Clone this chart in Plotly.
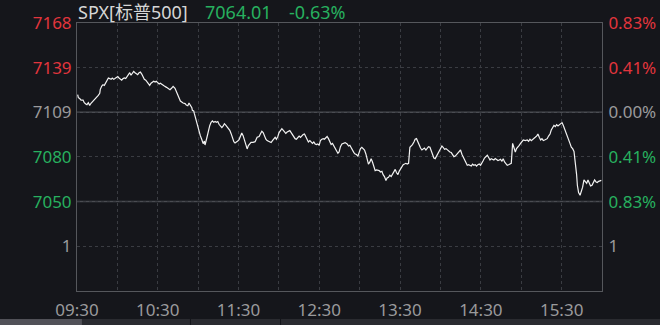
import plotly.graph_objects as go

# ---------------- data ----------------
TITLE_NAME = "SPX[标普500]"
LAST_PRICE = "7064.01"
LAST_CHANGE = "-0.63%"

# minutes after 09:30
minutes = [
    0.5, 1.0, 2.0, 3.0, 4.5, 5.4, 6.5, 7.4, 8.4, 9.4, 10.4, 11.9, 12.9, 13.9, 14.9, 15.8, 16.9, 17.3, 18.4, 19.3,
    20.3, 21.3, 22.3, 23.3, 24.3, 25.3, 26.2, 27.3, 28.2, 29.2, 30.3, 31.2, 32.2, 33.2, 34.2, 35.2, 36.2, 37.2, 38.1, 39.2,
    40.1, 41.1, 42.1, 43.1, 44.1, 45.1, 46.1, 47.1, 48.1, 49.1, 50.0, 51.1, 52.0, 53.0, 54.0, 55.0, 56.0, 57.0, 58.0, 58.9,
    60.0, 61.0, 61.9, 63.0, 63.9, 64.9, 66.5, 67.6, 69.1, 70.2, 71.4, 72.8, 74.3, 75.3, 76.8, 78.8, 80.3, 81.2, 82.3, 83.2,
    84.2, 85.3, 85.7, 86.7, 87.2, 87.7, 88.7, 89.7, 90.7, 91.6, 92.7, 93.7, 94.6, 95.1, 96.6, 97.6, 98.6, 99.6, 100.6, 101.6,
    102.6, 103.5, 104.6, 105.5, 106.5, 107.6, 108.5, 109.5, 110.5, 111.5, 112.5, 113.5, 114.5, 115.4, 116.5, 117.4, 118.4, 119.4, 120.4, 121.4,
    122.4, 123.4, 124.4, 125.4, 126.4, 127.3, 128.4, 129.3, 130.8, 132.3, 133.8, 135.3, 136.2, 137.3, 138.3, 139.2, 140.3, 141.2, 142.2, 143.2,
    144.2, 145.2, 146.2, 147.2, 148.1, 149.2, 150.1, 151.1, 152.2, 153.1, 154.1, 155.1, 156.1, 157.1, 158.1, 159.1, 160.0, 161.1, 162.0, 163.0,
    164.0, 165.0, 166.0, 167.0, 168.0, 169.0, 170.0, 171.0, 171.9, 173.0, 173.9, 174.9, 175.9, 176.9, 177.9, 178.9, 179.9, 180.8, 181.9, 182.9,
    183.8, 184.9, 185.8, 186.8, 187.8, 188.8, 189.8, 190.8, 191.8, 192.7, 193.8, 194.7, 195.7, 196.8, 197.7, 199.2, 200.7, 201.7, 202.7, 203.7,
    204.6, 205.7, 206.6, 207.6, 208.7, 209.6, 210.6, 211.6, 212.6, 213.6, 214.6, 215.6, 216.5, 217.6, 218.5, 219.5, 220.5, 221.5, 222.5, 223.5,
    224.5, 225.4, 226.5, 227.4, 228.4, 229.5, 230.4, 231.4, 232.4, 233.4, 234.4, 235.4, 236.4, 237.3, 238.4, 239.3, 240.3, 241.4, 242.3, 243.3,
    244.3, 245.3, 246.3, 247.3, 248.3, 249.2, 250.3, 251.2, 252.2, 253.3, 254.2, 255.2, 256.2, 257.2, 258.1, 259.2, 260.2, 261.1, 262.2, 263.1,
    264.1, 265.1, 266.1, 267.1, 268.1, 269.1, 270.0, 271.1, 272.0, 273.0, 274.1, 275.0, 276.0, 277.0, 278.0, 279.0, 280.0, 281.0, 281.9, 283.0,
    283.9, 284.9, 286.0, 286.9, 287.9, 288.9, 289.9, 290.9, 291.9, 292.9, 293.8, 294.8, 295.8, 296.8, 297.8, 298.8, 299.8, 300.8, 301.8, 302.7,
    303.8, 304.8, 305.7, 306.8, 307.7, 308.7, 309.7, 310.7, 311.7, 312.7, 313.7, 314.6, 315.7, 316.6, 317.6, 318.7, 319.6, 320.6, 321.6, 322.6,
    323.6, 324.6, 325.6, 326.5, 327.6, 328.5, 329.5, 330.5, 331.5, 333.0, 334.5, 335.5, 336.5, 337.5, 338.4, 339.5, 340.4, 341.4, 342.4, 343.4,
    344.4, 345.4, 346.4, 347.4, 348.4, 349.3, 350.3, 351.4, 352.3, 353.3, 354.3, 355.3, 356.3, 357.3, 358.3, 359.2, 360.3, 361.2, 362.2, 363.3,
    364.2, 365.2, 366.2, 367.2, 368.2, 369.2, 370.2, 371.1, 371.7, 372.6, 373.7, 374.6, 375.6, 376.6, 377.6, 378.6, 379.6, 380.6, 381.5, 382.6,
    383.5, 384.5, 385.6, 386.5, 387.5, 388.5, 389.5,
]

prices = [
    7120.7, 7118.7, 7118.1, 7117.1, 7117.1, 7115.4, 7114.5, 7114.1, 7115.4, 7113.6, 7115.0, 7116.3, 7117.1, 7118.5, 7118.9, 7120.2, 7121.6, 7124.2, 7126.4, 7127.3,
    7126.8, 7128.2, 7130.0, 7131.7, 7131.3, 7130.8, 7131.7, 7130.8, 7131.3, 7132.1, 7132.6, 7131.7, 7130.8, 7130.3, 7131.3, 7131.7, 7131.3, 7132.6, 7133.9, 7135.2,
    7133.5, 7134.8, 7136.1, 7135.2, 7134.8, 7133.9, 7135.2, 7135.6, 7134.3, 7132.6, 7130.8, 7130.3, 7129.0, 7127.7, 7126.8, 7128.2, 7128.6, 7129.5, 7129.0, 7129.5,
    7128.6, 7127.7, 7128.2, 7127.3, 7126.8, 7126.4, 7125.5, 7124.9, 7123.9, 7124.9, 7126.2, 7124.9, 7121.4, 7118.7, 7116.5, 7115.2, 7114.8, 7113.8, 7113.4, 7115.2,
    7113.8, 7112.1, 7110.3, 7109.9, 7108.1, 7106.4, 7102.4, 7099.3, 7096.3, 7093.6, 7091.0, 7088.3, 7090.0, 7087.4, 7092.7, 7097.1, 7100.2, 7102.4, 7103.3, 7102.4,
    7102.9, 7102.4, 7102.9, 7101.1, 7100.2, 7098.9, 7099.8, 7101.5, 7100.6, 7099.3, 7098.4, 7097.1, 7094.9, 7091.8, 7089.6, 7088.7, 7089.2, 7090.0, 7091.0, 7092.7,
    7095.3, 7093.6, 7090.5, 7088.3, 7084.8, 7087.0, 7088.3, 7089.2, 7089.2, 7089.6, 7092.5, 7093.0, 7094.7, 7096.5, 7095.6, 7093.3, 7091.2, 7090.3, 7089.8, 7089.4,
    7089.0, 7090.3, 7091.6, 7092.5, 7091.2, 7093.0, 7095.6, 7097.3, 7098.2, 7097.3, 7096.0, 7095.1, 7096.0, 7096.5, 7096.9, 7095.6, 7094.3, 7093.3, 7091.6, 7091.2,
    7092.5, 7093.3, 7092.5, 7093.8, 7094.3, 7094.7, 7093.0, 7090.3, 7089.4, 7090.3, 7089.0, 7088.5, 7089.4, 7088.1, 7087.7, 7088.1, 7087.2, 7090.3, 7091.2, 7091.6,
    7091.2, 7092.0, 7093.0, 7091.6, 7089.0, 7087.7, 7088.5, 7086.7, 7085.9, 7084.1, 7081.9, 7082.8, 7086.3, 7088.1, 7088.5, 7089.0, 7088.1, 7086.7, 7087.2, 7085.4,
    7083.7, 7082.4, 7081.5, 7081.1, 7080.1, 7082.8, 7085.0, 7085.9, 7085.0, 7084.1, 7081.5, 7077.5, 7074.8, 7076.2, 7078.4, 7076.2, 7072.7, 7070.5, 7070.9, 7070.9,
    7070.5, 7069.6, 7070.0, 7067.8, 7066.5, 7063.9, 7065.6, 7066.1, 7067.4, 7066.5, 7068.2, 7070.0, 7071.3, 7069.2, 7067.8, 7070.0, 7071.3, 7072.7, 7074.4, 7074.8,
    7075.3, 7074.8, 7075.3, 7085.9, 7086.7, 7087.7, 7089.4, 7091.2, 7091.6, 7089.4, 7086.7, 7085.4, 7084.1, 7085.0, 7085.4, 7084.1, 7085.4, 7086.3, 7085.9, 7083.7,
    7081.9, 7078.8, 7078.4, 7080.1, 7081.1, 7082.8, 7085.0, 7086.7, 7085.9, 7084.6, 7085.0, 7084.1, 7083.7, 7082.8, 7082.4, 7080.6, 7079.7, 7080.1, 7081.1, 7081.9,
    7082.8, 7084.1, 7081.1, 7079.3, 7077.1, 7074.8, 7074.0, 7074.4, 7074.0, 7073.5, 7074.8, 7074.0, 7074.4, 7073.5, 7074.4, 7074.8, 7074.0, 7075.3, 7077.1, 7078.8,
    7080.1, 7080.6, 7079.3, 7077.5, 7078.4, 7078.0, 7077.5, 7078.4, 7078.0, 7077.1, 7077.5, 7078.0, 7076.6, 7078.4, 7076.2, 7075.3, 7074.0, 7074.4, 7074.8, 7075.3,
    7088.5, 7085.4, 7082.8, 7085.0, 7085.9, 7087.2, 7088.5, 7089.8, 7090.7, 7090.3, 7090.7, 7089.8, 7091.2, 7090.3, 7091.2, 7091.6, 7092.5, 7093.3, 7094.7, 7092.5,
    7090.7, 7091.6, 7090.3, 7090.7, 7091.2, 7091.6, 7093.3, 7094.7, 7097.3, 7098.6, 7100.4, 7099.6, 7100.9, 7100.0, 7100.9, 7101.7, 7102.2, 7100.4, 7098.2, 7095.6,
    7092.5, 7090.7, 7088.5, 7085.9, 7085.0, 7083.2, 7076.2, 7068.2, 7060.8, 7056.0, 7054.2, 7056.8, 7059.5, 7064.3, 7063.0, 7062.1, 7064.3, 7062.1, 7060.3, 7060.8,
    7063.0, 7064.3, 7063.0, 7062.6, 7063.4, 7063.9, 7064.01,
]

# axis scale
PREV_CLOSE = 7109
PANE_SPLIT = 7050
Y_RANGE = [6990.9, 7168.05]
y_ticks = [7168, 7138.5, 7109, 7079.5, 7050, 7020.5]
left_labels = ["7168", "7139", "7109", "7080", "7050", "1"]
right_labels = ["0.83%", "0.41%", "0.00%", "0.41%", "0.83%", "1"]
label_tone = ["up", "up", "flat", "down", "down", "flat"]

x_ticks = [0, 30, 60, 90, 120, 150, 180, 210, 240, 270, 300, 330, 360, 390]
x_labels = ["09:30", "", "10:30", "", "11:30", "", "12:30", "", "13:30", "", "14:30", "", "15:30", ""]

# ---------------- style ----------------
BG = "#15161b"
RED = "#e2353d"
GREEN = "#27b05f"
GREY = "#9a9a9c"
GRID = "#3a3c42"
BORDER = "#55575c"
SOLID = "#4a4c52"
FONT = "Noto Sans, Noto Sans CJK SC, sans-serif"
tone_color = {"up": RED, "down": GREEN, "flat": GREY}


def colored(labels, tones):
    return [f'<span style="color:{tone_color[t]}">{s}</span>' for s, t in zip(labels, tones)]


fig = go.Figure()
fig.add_trace(go.Scatter(
    x=minutes, y=prices, mode="lines",
    line=dict(color="#f2f2f2", width=1.2), hoverinfo="skip", showlegend=False,
))
# invisible trace that anchors the right-hand axis
fig.add_trace(go.Scatter(
    x=[x_ticks[0], x_ticks[-1]], y=[y_ticks[0], y_ticks[-2]], yaxis="y2", mode="lines",
    line=dict(color="rgba(0,0,0,0)", width=0), hoverinfo="skip", showlegend=False,
))

axis_common = dict(
    showgrid=True, gridcolor=GRID, griddash="dot", gridwidth=1,
    zeroline=False, showline=True, linecolor=BORDER, linewidth=1,
    ticks="", tickfont=dict(family=FONT, size=17, color=GREY), automargin=False,
)

fig.update_layout(
    width=660, height=325,
    margin=dict(l=77, r=58, t=23, b=34, pad=0),
    paper_bgcolor=BG, plot_bgcolor=BG,
    showlegend=False,
    xaxis=dict(
        range=[x_ticks[0], x_ticks[-1]], tickmode="array", tickvals=x_ticks, ticktext=x_labels,
        mirror=True, ticklabelstandoff=4, **axis_common,
    ),
    yaxis=dict(
        range=Y_RANGE, tickmode="array", tickvals=y_ticks,
        ticktext=colored(left_labels, label_tone), side="left", ticklabelstandoff=1, **axis_common,
    ),
    yaxis2=dict(
        range=Y_RANGE, tickmode="array", tickvals=y_ticks,
        ticktext=colored(right_labels, label_tone), overlaying="y", side="right", ticklabelstandoff=2,
        **{**axis_common, "showgrid": False},
    ),
)

# solid reference lines: previous close and pane divider
for level in (PREV_CLOSE, PANE_SPLIT):
    fig.add_shape(type="line", xref="x", yref="y", x0=x_ticks[0], x1=x_ticks[-1], y0=level, y1=level,
                  line=dict(color=SOLID, width=1.5), layer="below")

# header text
HEAD_Y = 1.041
fig.add_annotation(xref="paper", yref="paper", x=-0.002, y=HEAD_Y, xanchor="left", yanchor="middle",
                   text=TITLE_NAME, showarrow=False, font=dict(family=FONT, size=18, color="#d6d6d6"))
fig.add_annotation(xref="paper", yref="paper", x=0.240, y=HEAD_Y, xanchor="left", yanchor="middle",
                   text=LAST_PRICE, showarrow=False, font=dict(family=FONT, size=18, color=GREEN))
fig.add_annotation(xref="paper", yref="paper", x=0.400, y=HEAD_Y, xanchor="left", yanchor="middle",
                   text=LAST_CHANGE, showarrow=False, font=dict(family=FONT, size=18, color=GREEN))

# bottom scroll strip
strip = [(-0.1467, 0.0095, "#515158"), (0.0095, 0.2152, "#2a2b30"), (0.2171, 0.3867, "#2a2b30"), (0.3886, 1.12, "#2a2b30")]
for x0, x1, c in strip:
    fig.add_shape(type="rect", xref="paper", yref="paper", x0=x0, x1=x1, y0=-0.1045, y1=-0.13,
                  fillcolor=c, line=dict(width=0), layer="above")

fig.write_html("out.html")
